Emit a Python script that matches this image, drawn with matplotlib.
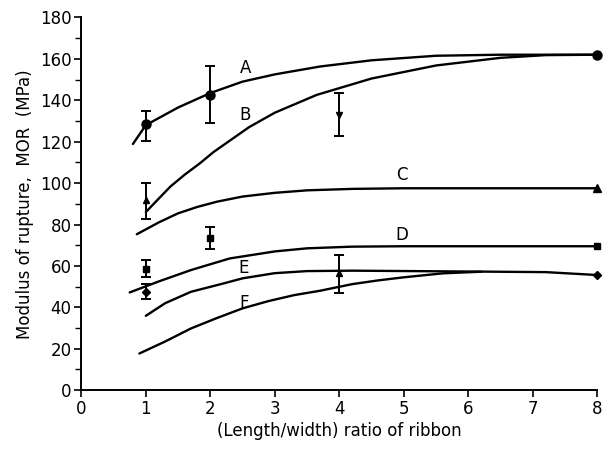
import numpy as np
import matplotlib
matplotlib.use("Agg")
import matplotlib.pyplot as plt

# curves (ratio, MOR in MPa)
a_x = [0.80, 1.0, 1.5, 2.0, 2.5, 3.0, 3.7, 4.5, 5.5, 6.5, 8.0]
a_y = [118.9, 128.0, 136.5, 143.5, 149.0, 152.5, 156.3, 159.3, 161.5, 162.0, 162.0]
b_x = [1.0, 1.2, 1.38, 1.6, 1.84, 2.05, 2.6, 3.0, 3.65, 4.5, 5.5, 6.5, 7.2, 8.0]
b_y = [86.0, 92.5, 98.3, 104.0, 109.6, 115.0, 127.0, 134.0, 142.6, 150.5, 156.8, 160.5, 161.8, 162.0]
c_x = [0.86, 1.2, 1.5, 1.8, 2.1, 2.5, 3.0, 3.5, 4.2, 5.0, 8.0]
c_y = [75.3, 81.0, 85.4, 88.5, 91.0, 93.5, 95.3, 96.5, 97.2, 97.5, 97.5]
d_x = [0.75, 1.2, 1.7, 2.3, 3.0, 3.5, 4.2, 5.0, 8.0]
d_y = [47.2, 52.5, 58.0, 63.6, 67.0, 68.5, 69.3, 69.5, 69.5]
e_x = [1.0, 1.3, 1.7, 2.2, 2.5, 3.0, 3.5, 4.2, 6.0, 7.2, 8.0]
e_y = [35.9, 42.0, 47.5, 51.5, 54.0, 56.5, 57.5, 57.7, 57.3, 57.0, 55.6]
f_x = [0.9, 1.3, 1.7, 2.1, 2.5, 2.9, 3.3, 3.7, 4.2, 4.6, 5.0, 5.6, 6.2]
f_y = [17.7, 23.5, 29.8, 34.8, 39.5, 43.0, 45.9, 48.0, 51.2, 53.0, 54.5, 56.4, 57.2]

# measured points: x, mean, low, high
circ_x = [1, 2];  circ_y = [128.4, 142.6]; circ_lo = [120.5, 129.2]; circ_hi = [135.0, 156.6]
dtri_x = [4];     dtri_y = [132.9];        dtri_lo = [122.8];        dtri_hi = [143.7]
tri_x = [1];      tri_y = [91.8];          tri_lo = [82.6];          tri_hi = [99.9]
sq_x = [1, 2];    sq_y = [58.5, 73.3];     sq_lo = [54.8, 68.1];     sq_hi = [62.8, 78.9]
dia_x = [1];      dia_y = [47.5];          dia_lo = [44.0];          dia_hi = [51.5]
f4_x = [4];       f4_y = [56.4];           f4_lo = [46.7];           f4_hi = [65.2]

# end points at ratio 8
end_circ = 162.0
end_tri = 97.8
end_sq = 69.7
end_dia = 55.6

labels = ["A", "B", "C", "D", "E", "F"]
label_x = [2.54, 2.54, 4.97, 4.97, 2.52, 2.52]
label_y = [155.5, 132.9, 103.9, 74.9, 58.8, 42.2]

plt.rcParams['font.family'] = ['DejaVu Sans']
fig = plt.figure(figsize=(6.07, 4.59), dpi=100)
ax = fig.add_axes([0.134, 0.150, 0.850, 0.812])

for xs, ys in [(a_x, a_y), (b_x, b_y), (c_x, c_y), (d_x, d_y), (e_x, e_y), (f_x, f_y)]:
    ax.plot(xs, ys, color='black', lw=1.7, solid_capstyle='round', solid_joinstyle='round')

def errpts(x, y, lo, hi, marker, ms):
    y = np.array(y)
    yerr = [y - np.array(lo), np.array(hi) - y]
    ax.errorbar(x, y, yerr=yerr, fmt=marker, color='black', ms=ms,
                elinewidth=1.4, capsize=3.3, capthick=1.4)

errpts(circ_x, circ_y, circ_lo, circ_hi, 'o', 6.5)
errpts(dtri_x, dtri_y, dtri_lo, dtri_hi, 'v', 5)
errpts(tri_x, tri_y, tri_lo, tri_hi, '^', 5)
errpts(sq_x, sq_y, sq_lo, sq_hi, 's', 4.5)
errpts(dia_x, dia_y, dia_lo, dia_hi, 'D', 4)
errpts(f4_x, f4_y, f4_lo, f4_hi, '^', 5)

ax.plot([8], [end_circ], 'o', color='black', ms=6.5, clip_on=False)
ax.plot([8], [end_tri], '^', color='black', ms=5.5, clip_on=False)
ax.plot([8], [end_sq], 's', color='black', ms=5, clip_on=False)
ax.plot([8], [end_dia], 'D', color='black', ms=4.5, clip_on=False)

for lab, lx, ly in zip(labels, label_x, label_y):
    ax.text(lx, ly, lab, fontsize=12, ha='center', va='center')

ax.set_xlim(0, 8)
ax.set_ylim(0, 180)
ax.set_xticks(range(0, 9))
ax.set_yticks(range(0, 181, 20))
ax.set_yticks(range(10, 180, 20), minor=True)
ax.spines['top'].set_visible(False)
ax.spines['right'].set_visible(False)
ax.spines['left'].set_linewidth(1.4)
ax.spines['bottom'].set_linewidth(1.4)
ax.tick_params(axis='both', which='major', direction='out', length=5, width=1.2, labelsize=12, pad=2)
ax.tick_params(axis='y', which='minor', direction='out', length=4, width=1.0)
ax.set_xlabel("(Length/width) ratio of ribbon", fontsize=12, labelpad=3)
ax.set_ylabel("Modulus of rupture,  MOR  (MPa)", fontsize=12, labelpad=4)

fig.savefig("out.png", dpi=100)
